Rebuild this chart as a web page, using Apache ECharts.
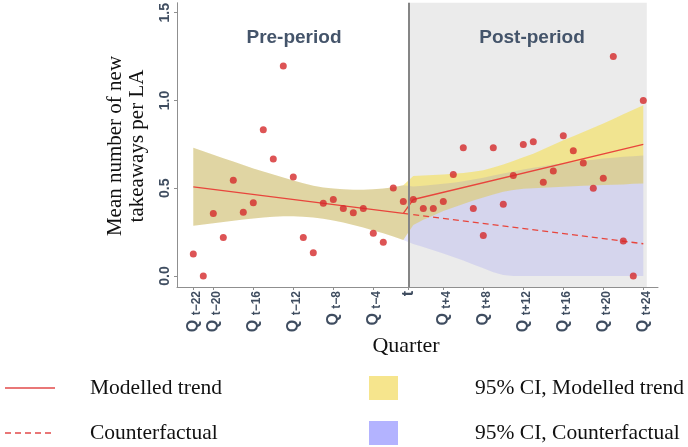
<!DOCTYPE html>
<html><head><meta charset="utf-8">
<script src="https://cdn.jsdelivr.net/npm/echarts@6/dist/echarts.min.js"></script>
<style>html,body{margin:0;padding:0;background:#fff}#c{width:688px;height:447px}</style>
</head><body><div id="c"></div>
<script>
// ---------------- data ----------------
const preQuarters = ['t-22','t-21','t-20','t-19','t-18','t-17','t-16','t-15','t-14','t-13','t-12','t-11','t-10','t-9','t-8','t-7','t-6','t-5','t-4','t-3','t-2','t-1'];
const postQuarters = ['t+1','t+2','t+3','t+4','t+5','t+6','t+7','t+8','t+9','t+10','t+11','t+12','t+13','t+14','t+15','t+16','t+17','t+18','t+19','t+20','t+21','t+22','t+23','t+24'];
const preMeans = [0.125, 0.0, 0.356, 0.22, 0.545, 0.364, 0.417, 0.833, 0.667, 1.197, 0.564, 0.22, 0.133, 0.415, 0.436, 0.385, 0.36, 0.385, 0.244, 0.193, 0.502, 0.424];
const postMeans = [0.436, 0.385, 0.385, 0.424, 0.578, 0.731, 0.385, 0.231, 0.731, 0.409, 0.572, 0.75, 0.765, 0.534, 0.598, 0.799, 0.714, 0.644, 0.5, 0.557, 1.25, 0.199, 0.0, 1.0];

const trendQuarters = ['t-22','t-1','t+1','t+24'];
const trendValues = [0.508, 0.357, 0.436, 0.75];
const cfQuarters = ['t-1','t+24'];
const cfValues = [0.357, 0.184];

// 95% CI (pre-period: modelled and counterfactual coincide)
const preCiUpper = [0.731, 0.711, 0.691, 0.671, 0.652, 0.632, 0.612, 0.595, 0.578, 0.561, 0.544, 0.528, 0.515, 0.505, 0.498, 0.494, 0.492, 0.492, 0.494, 0.498, 0.506, 0.517];
const preCiLower = [0.286, 0.294, 0.301, 0.308, 0.315, 0.322, 0.328, 0.333, 0.337, 0.340, 0.341, 0.338, 0.333, 0.326, 0.317, 0.305, 0.291, 0.276, 0.260, 0.243, 0.225, 0.205];
const postModCiUpper = [0.570, 0.572, 0.575, 0.578, 0.582, 0.587, 0.594, 0.603, 0.618, 0.636, 0.655, 0.676, 0.697, 0.722, 0.748, 0.773, 0.797, 0.821, 0.845, 0.869, 0.895, 0.921, 0.947, 0.973];
const postModCiLower = [0.290, 0.320, 0.345, 0.370, 0.390, 0.410, 0.430, 0.448, 0.465, 0.480, 0.490, 0.497, 0.500, 0.503, 0.506, 0.509, 0.512, 0.514, 0.516, 0.518, 0.520, 0.522, 0.525, 0.527];
const postCfCiUpper = [0.510, 0.515, 0.520, 0.525, 0.532, 0.540, 0.550, 0.560, 0.572, 0.584, 0.596, 0.607, 0.617, 0.626, 0.635, 0.643, 0.650, 0.657, 0.663, 0.669, 0.674, 0.679, 0.683, 0.687];
const postCfCiLower = [0.183, 0.165, 0.147, 0.128, 0.108, 0.088, 0.066, 0.044, 0.022, 0.006, 0, 0, 0, 0, 0, 0, 0, 0, 0, 0, 0, 0, 0, 0];

const xTickLabels = ['t-22','t-20','t-16','t-12','t-8','t-4','t','t+4','t+8','t+12','t+16','t+20','t+24'];
const yTicks = [0, 0.5, 1.0, 1.5];
const periodLabels = ['Pre-period', 'Post-period'];
const legendLabels = ['Modelled trend', 'Counterfactual', '95% CI, Modelled trend', '95% CI, Counterfactual'];
const yTitle = 'Mean number of new\ntakeaways per LA';
const xTitle = 'Quarter';

// ---------------- mapping ----------------
// quarter label -> position on the continuous axis (no quarter "t" itself)
function qPos(label) {
  if (label === 't') return 21.5;
  const k = parseInt(label.slice(1), 10);
  return k < 0 ? k + 22 : k + 21;
}
const allQuarters = preQuarters.concat(postQuarters);
const allMeans = preMeans.concat(postMeans);
const modUpper = preCiUpper.concat(postModCiUpper);
const modLower = preCiLower.concat(postModCiLower);
const cfUpper = preCiUpper.concat(postCfCiUpper);
const cfLower = preCiLower.concat(postCfCiLower);

const xs = allQuarters.map(qPos);
const tickPos = xTickLabels.map(qPos);
const labelMap = {};
xTickLabels.forEach((l, i) => {
  labelMap[String(tickPos[i])] = l === 't' ? '{t|t}' : '{q|Q }{s|' + l.replace('-', '\u2212') + '}';
});

function bandSeries(upper, lower, fill) {
  return {
    type: 'custom', z: 2, silent: true, clip: true,
    data: [[xs[0], lower[0]]],
    renderItem: function (params, api) {
      const top = upper.map((u, i) => api.coord([xs[i], u]));
      const bot = lower.map((l, i) => api.coord([xs[i], l])).reverse();
      return { type: 'polygon', shape: { points: top.concat(bot) }, style: { fill: fill } };
    }
  };
}

const axisColor = '#8f8f8f';
const tickTextColor = '#3f4d60';
const serif = '"Liberation Serif", "DejaVu Serif", serif';

const chart = echarts.init(document.getElementById('c'), null, { renderer: 'canvas' });
chart.setOption({
  animation: false,
  backgroundColor: '#ffffff',
  grid: { left: 177, top: 2, width: 481, height: 285, containLabel: false },
  xAxis: {
    type: 'value', min: -1.63, max: 46.47,
    axisLine: { show: true, onZero: false, lineStyle: { color: axisColor, width: 1 } },
    splitLine: { show: false },
    axisTick: { show: true, customValues: tickPos, length: 3, lineStyle: { color: axisColor } },
    axisLabel: {
      customValues: tickPos, rotate: 90, margin: 4,
      formatter: v => labelMap[String(v)] || '',
      rich: {
        q: { fontFamily: 'Liberation Sans, Arial', fontWeight: 'bold', fontSize: 16, color: tickTextColor, lineHeight: 18, verticalAlign: 'middle' },
        s: { fontFamily: 'Liberation Sans, Arial', fontWeight: 'bold', fontSize: 12, color: tickTextColor, lineHeight: 11, verticalAlign: 'bottom' },
        t: { fontFamily: 'Liberation Sans, Arial', fontWeight: 'bold', fontSize: 16, color: tickTextColor }
      }
    }
  },
  yAxis: {
    type: 'value', min: -0.0625, max: 1.5568,
    axisLine: { show: true, onZero: false, lineStyle: { color: axisColor, width: 1 } },
    splitLine: { show: false },
    axisTick: { show: true, customValues: yTicks, length: 3, lineStyle: { color: axisColor } },
    axisLabel: {
      customValues: yTicks, rotate: 90, margin: 5,
      formatter: v => Number(v).toFixed(1),
      fontFamily: 'Liberation Sans, Arial', fontWeight: 'bold', fontSize: 14, color: tickTextColor
    }
  },
  series: [
    { // post-period shaded panel
      type: 'line', data: [], z: 1, silent: true,
      markArea: { silent: true, itemStyle: { color: '#ebebeb' },
        data: [[{ xAxis: qPos('t') }, { xAxis: 45.35 }]] }
    },
    bandSeries(modUpper, modLower, 'rgba(244,224,95,0.65)'),
    bandSeries(cfUpper, cfLower, 'rgba(60,60,255,0.12)'),
    { // intervention line
      type: 'line', data: [], z: 3, silent: true,
      markLine: { silent: true, symbol: 'none', label: { show: false },
        lineStyle: { color: '#858585', width: 2, type: 'solid' },
        data: [{ xAxis: qPos('t') }] }
    },
    { type: 'line', z: 4, symbol: 'none', silent: true,
      lineStyle: { color: '#e8453c', width: 1.3 },
      data: trendQuarters.map((q, i) => [qPos(q), trendValues[i]]) },
    { type: 'line', z: 4, symbol: 'none', silent: true,
      lineStyle: { color: '#e8453c', width: 1.3, type: [6, 4] },
      data: cfQuarters.map((q, i) => [qPos(q), cfValues[i]]) },
    { type: 'scatter', z: 5, symbolSize: 7, silent: true,
      itemStyle: { color: '#d5292b' },
      data: xs.map((x, i) => [x, allMeans[i]]) }
  ],
  graphic: [
    { type: 'text', x: 294, y: 38, z: 10, style: { text: periodLabels[0], fill: '#44546a', font: 'bold 19px "Liberation Sans", Arial', textAlign: 'center', textVerticalAlign: 'middle' } },
    { type: 'text', x: 532, y: 38, z: 10, style: { text: periodLabels[1], fill: '#44546a', font: 'bold 19px "Liberation Sans", Arial', textAlign: 'center', textVerticalAlign: 'middle' } },
    { type: 'text', x: 126, y: 146, rotation: Math.PI / 2, style: { text: yTitle, fill: '#111', font: '21px ' + serif, textAlign: 'center', textVerticalAlign: 'middle', lineHeight: 22 } },
    { type: 'text', x: 406, y: 346, style: { text: xTitle, fill: '#111', font: '22px ' + serif, textAlign: 'center', textVerticalAlign: 'middle' } },
    { type: 'line', shape: { x1: 5, y1: 388, x2: 55, y2: 388 }, style: { stroke: '#e24a4a', lineWidth: 1.5 } },
    { type: 'line', shape: { x1: 5, y1: 433, x2: 55, y2: 433 }, style: { stroke: '#e24a4a', lineWidth: 1.5, lineDash: [6, 4] } },
    { type: 'rect', shape: { x: 369, y: 376, width: 29, height: 24 }, style: { fill: '#f6e58d' } },
    { type: 'rect', shape: { x: 369, y: 421, width: 29, height: 24 }, style: { fill: '#b3b3ff' } },
    { type: 'text', x: 90, y: 388, style: { text: legendLabels[0], fill: '#111', font: '21.5px ' + serif, textVerticalAlign: 'middle' } },
    { type: 'text', x: 90, y: 433, style: { text: legendLabels[1], fill: '#111', font: '21.5px ' + serif, textVerticalAlign: 'middle' } },
    { type: 'text', x: 475, y: 388, style: { text: legendLabels[2], fill: '#111', font: '21.5px ' + serif, textVerticalAlign: 'middle' } },
    { type: 'text', x: 475, y: 433, style: { text: legendLabels[3], fill: '#111', font: '21.5px ' + serif, textVerticalAlign: 'middle' } }
  ]
});
</script>
</body></html>
